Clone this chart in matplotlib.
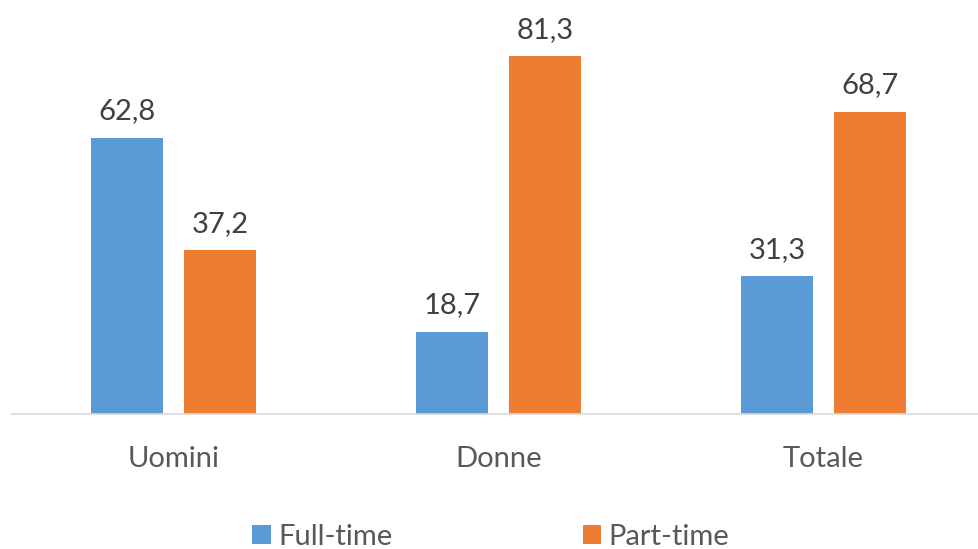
import matplotlib.pyplot as plt
import numpy as np

categories = ['Uomini', 'Donne', 'Totale']
full_time = [62.8, 18.7, 31.3]
part_time = [37.2, 81.3, 68.7]
series_names = ['Full-time', 'Part-time']
colors = ['#5B9BD5', '#ED7D31']

plt.rcParams['font.family'] = ['Lato', 'DejaVu Sans']

W, H = 979, 549
fig = plt.figure(figsize=(W / 100, H / 100), dpi=100)
left = 11 / W
bottom = 1 - 414 / H
ax = fig.add_axes([left, bottom, 1 - left, 1 - bottom - 18 / H])

x = np.arange(len(categories))
width = 0.2215
offset = 0.143
b1 = ax.bar(x - offset, full_time, width, color=colors[0], label=series_names[0])
b2 = ax.bar(x + offset, part_time, width, color=colors[1], label=series_names[1])

for bars in (b1, b2):
    for rect in bars:
        h = rect.get_height()
        ax.annotate(f'{h:.1f}'.replace('.', ','),
                    (rect.get_x() + rect.get_width() / 2, h),
                    xytext=(0, 9.5), textcoords='offset points',
                    ha='center', va='bottom', fontsize=21, color='#404040')

ax.set_xlim(-0.5, 2.5 - 7 / 325)
ax.set_ylim(0, 90)
ax.set_xticks(x)
ax.set_xticklabels(categories, fontsize=21, color='#595959')
ax.tick_params(axis='x', length=0, pad=23)
ax.set_yticks([])
for s in ['top', 'right', 'left']:
    ax.spines[s].set_visible(False)
ax.spines['bottom'].set_color('#D9D9D9')
ax.spines['bottom'].set_linewidth(1.2)

leg = fig.legend(handles=[b1, b2], loc='center', bbox_to_anchor=(491 / W, 1 - 537 / H),
                 ncol=2, frameon=False, fontsize=21, handlelength=0.62, handleheight=0.62,
                 handletextpad=0.28, columnspacing=6.5, labelcolor='#595959')

fig.savefig('out.png', dpi=100)
